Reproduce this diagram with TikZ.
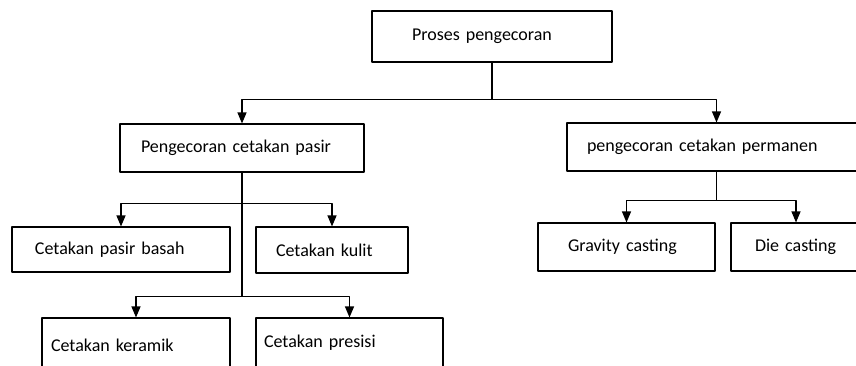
\documentclass[tikz,border=0pt]{standalone}
\usepackage{fontspec}
\setmainfont{Carlito}
\usepackage{tikz}
\usetikzlibrary{arrows.meta}

\begin{document}
\begin{tikzpicture}[x=1pt,y=-1pt,>={Triangle[length=11pt,width=9pt]},line join=bevel,
  box/.style={draw,line width=1.1pt,inner sep=0pt,minimum height=48pt,align=left,font=\fontsize{18}{21}\selectfont},
  link/.style={black,line width=1.1pt}]
\path [use as bounding box,clip] (0,0) rectangle (856,365);
%%
\node (node_proses) at (492,36.5) [box,text width=240pt,minimum height=51pt] {\hspace*{40pt}Proses pengecoran};
  \node (node_pasir) at (242,148) [box,text width=244pt] {\hspace*{21pt}Pengecoran cetakan pasir};
  \node (node_permanen) at (716.5,147) [box,text width=299pt] {\hspace*{20pt}pengecoran cetakan permanen};
  \node (node_gravity) at (626.5,247) [box,text width=177pt] {\hspace*{30pt}Gravity casting};
  \node (node_die) at (796,247) [box,text width=130pt] {\hspace*{24pt}Die casting};
  \node (node_basah) at (121,249.5) [box,text width=218pt,minimum height=45pt] {\hspace*{23pt}Cetakan pasir basah};
  \node (node_kulit) at (332,250) [box,text width=152pt,minimum height=46pt] {\hspace*{20pt}Cetakan kulit};
  \node (node_keramik) at (136,345) [box,text width=188pt,minimum height=54pt] {\hspace*{9pt}Cetakan keramik};
  \node (node_presisi) at (349.5,343) [box,text width=187pt,minimum height=50pt] {\hspace*{8pt}Cetakan presisi};
  \draw [link,->] (node_proses.south) -- ++(0,37) -| (node_pasir.north);
  \draw [link,->] (node_proses.south) -- ++(0,37) -| (node_permanen.north);
  \draw [link,->] (node_pasir.south) -- ++(0,31) -| (node_basah.north);
  \draw [link,->] (node_pasir.south) -- ++(0,31) -| (node_kulit.north);
  \draw [link,->] (node_pasir.south) -- ++(0,124) -| (node_keramik.north);
  \draw [link,->] (node_pasir.south) -- ++(0,124) -| (node_presisi.north);
  \draw [link,->] (node_permanen.south) -- ++(0,29) -| (node_gravity.north);
  \draw [link,->] (node_permanen.south) -- ++(0,29) -| (node_die.north);
%
\end{tikzpicture}
\end{document}
